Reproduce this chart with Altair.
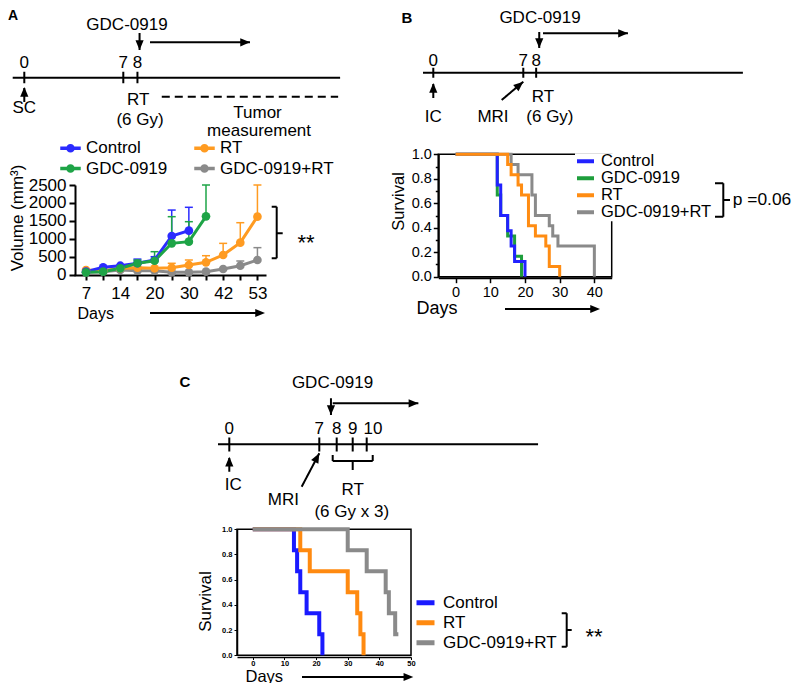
import json
import altair as alt
import pandas as pd

FONT = "Liberation Sans"
OFF = 8            # page margin of the html page
W, H = 784, 675    # whole canvas (autosize none)


def P(v):
    """page pixel -> chart pixel"""
    return v - OFF


# ============================ DATA ============================
# ---- Panel A: tumour volume (mm3), mean and upper error, per measurement
A_GROUPS = ["Control", "GDC-0919", "RT", "GDC-0919+RT"]
A_COLORS = ["#2b2bff", "#1ea447", "#ff9b21", "#8a8a8a"]
A_TICK_LABELS = ["7", "14", "20", "30", "42", "53"]   # every 2nd measurement

a_control = [80, 200, 246, 313, 405, 1075, 1224]
a_control_up = [None, None, None, 430, 497, 1800, 1877]
a_gdc = [60, 80, 173, 313, 385, 871, 917, 1625]
a_gdc_up = [None, None, None, 400, 637, 1615, 1475, 2500]
a_rt = [125, 106, 173, 190, 173, 190, 265, 340, 545, 890, 1615]
a_rt_up = [None, None, None, None, None, 313, 405, 525, 870, 1447, 2500]
a_combo = [60, 80, 125, 106, 106, 60, 60, 80, 154, 246, 405]
a_combo_up = [None, None, None, None, None, None, None, None, None, 377, 750]

# ---- Panel B: Kaplan-Meier (day, survival)
B_GROUPS = ["Control", "GDC-0919", "RT", "GDC-0919+RT"]
B_COLORS = ["#2222ff", "#1e9e3c", "#ff8c12", "#8a8a8a"]
b_control_t = [0, 12, 13, 15, 16, 17, 20]
b_control_s = [1, 0.75, 0.5, 0.375, 0.25, 0.125, 0]
b_gdc_t = [0, 12, 13, 15, 17, 19]
b_gdc_s = [1, 0.667, 0.5, 0.333, 0.167, 0]
b_rt_t = [0, 15, 16, 18, 19, 21, 23, 26, 27, 30]
b_rt_s = [1, 0.917, 0.833, 0.75, 0.667, 0.417, 0.333, 0.25, 0.083, 0]
b_combo_t = [0, 16, 18, 22, 23, 27, 28, 29.5, 40]
b_combo_s = [1, 0.917, 0.833, 0.667, 0.5, 0.417, 0.333, 0.25, 0]

# ---- Panel C: Kaplan-Meier (day, survival)
C_GROUPS = ["Control", "RT", "GDC-0919+RT"]
C_COLORS = ["#1a1aff", "#ff8a10", "#8a8a8a"]
c_control_t = [0, 13, 14, 15, 17, 21, 22]
c_control_s = [1, 0.833, 0.667, 0.5, 0.333, 0.167, 0]
c_rt_t = [0, 15, 18, 30, 33, 34, 35]
c_rt_s = [1, 0.833, 0.667, 0.5, 0.333, 0.167, 0]
c_combo_t = [0, 30, 36, 42, 43, 45, 46]
c_combo_s = [1, 0.833, 0.667, 0.5, 0.333, 0.167, 0.167]

# ---- timeline day marks
TL_A_DAYS = [0, 7, 8]
TL_B_DAYS = [0, 7, 8]
TL_C_DAYS = [0, 7, 8, 9, 10]

# ============================ TABLES ============================
def a_rows(name, vals, ups, draw):
    return [dict(group=name, idx=i, vol=v, up=u, draw=draw)
            for i, (v, u) in enumerate(zip(vals, ups))]

a_df = pd.DataFrame(
    a_rows("GDC-0919+RT", a_combo, a_combo_up, 0)
    + a_rows("RT", a_rt, a_rt_up, 1)
    + a_rows("Control", a_control, a_control_up, 2)
    + a_rows("GDC-0919", a_gdc, a_gdc_up, 3)
)
a_err = a_df.dropna(subset=["up"])


def km_rows(name, ts, ss, draw):
    return [dict(group=name, day=t, surv=s, draw=draw) for t, s in zip(ts, ss)]

b_df = pd.DataFrame(
    km_rows("GDC-0919", b_gdc_t, b_gdc_s, 0)
    + km_rows("Control", b_control_t, b_control_s, 1)
    + km_rows("GDC-0919+RT", b_combo_t, b_combo_s, 2)
    + km_rows("RT", b_rt_t, b_rt_s, 3)
)
c_df = pd.DataFrame(
    km_rows("Control", c_control_t, c_control_s, 0)
    + km_rows("RT", c_rt_t, c_rt_s, 1)
    + km_rows("GDC-0919+RT", c_combo_t, c_combo_s, 2)
)

# ============================ STYLE / LAYOUT ============================
YPAGE = alt.Scale(domain=[OFF, H + OFF], range=[0, H], nice=False, zero=False)
XPAGE = alt.Scale(domain=[OFF, W + OFF], range=[0, W], nice=False, zero=False)
ARROW = "M0,0L-1,-0.42L-1,0.42Z"
A_SYMBOL = ("M-1,-0.17L1,-0.17L1,0.17L-1,0.17Z "
            "M0.42,0A0.42,0.42 0 1 1 -0.42,0A0.42,0.42 0 1 1 0.42,0Z")


def annot(segs, heads, texts, xscale):
    sdf = pd.DataFrame(segs, columns=["x", "y", "x2", "y2", "dash"])
    hdf = pd.DataFrame(heads, columns=["x", "y", "angle"])
    tdf = pd.DataFrame(texts, columns=["x", "y", "text", "fs", "bold"])
    X = alt.X("x:Q", scale=xscale, axis=None)
    Y = alt.Y("y:Q", scale=YPAGE, axis=None)
    rules = alt.Chart(sdf).mark_rule(color="black", strokeWidth=2).encode(
        X, Y, x2="x2:Q", y2="y2:Q",
        strokeDash=alt.StrokeDash("dash:N", scale=alt.Scale(
            domain=["s", "d"], range=[[1, 0], [8, 5]]), legend=None))
    heads_l = alt.Chart(hdf).mark_point(
        shape=ARROW, filled=True, size=380, color="black", opacity=1,
        strokeWidth=0).encode(X, Y, angle=alt.Angle("angle:Q", scale=None))
    t_norm = alt.Chart(tdf).transform_filter("datum.bold == 0").mark_text(
        color="black", font=FONT).encode(
        X, Y, text="text:N", size=alt.Size("fs:Q", scale=None))
    t_bold = alt.Chart(tdf).transform_filter("datum.bold == 1").mark_text(
        color="black", font=FONT, fontWeight="bold").encode(
        X, Y, text="text:N", size=alt.Size("fs:Q", scale=None))
    return alt.layer(rules, heads_l, t_norm, t_bold)


FS = 17
# ---- timeline A (x in days)
tlA_scale = alt.Scale(domain=[0, 7], range=[P(24.3), P(123.3)], nice=False, zero=False)
tlA = annot(
    [(-0.82, 77.7, 22.33, 77.7, "s")]
    + [(d, 71.7, d, 83.3, "s") for d in TL_A_DAYS]
    + [(8.15, 33, 8.15, 50, "s"), (8.89, 42.3, 15.96, 42.3, "s"),
       (0, 102, 0, 88, "s"), (9.72, 96.7, 22.19, 96.7, "d")],
    [(8.15, 50, 90), (15.96, 42.3, 0), (0, 87, 270)],
    [(d, 63, str(d), FS, 0) for d in TL_A_DAYS]
    + [(7.26, 25, "GDC-0919", FS, 0), (0, 108.3, "SC", FS, 0),
       (8.06, 100, "RT", FS, 0), (8.18, 120, "(6 Gy)", FS, 0),
       (16.49, 113, "Tumor", FS, 0), (16.6, 131, "measurement", FS, 0)],
    tlA_scale)

# ---- timeline B
tlB_scale = alt.Scale(domain=[0, 7], range=[P(433.3), P(523.3)], nice=False, zero=False)
tlB = annot(
    [(-0.8, 72.7, 24.08, 72.7, "s")]
    + [(d, 67.7, d, 77.7, "s") for d in TL_B_DAYS]
    + [(8.24, 32, 8.24, 48, "s"), (8.53, 33.3, 15.14, 33.3, "s"),
       (0, 98, 0, 84, "s"), (5.32, 100, 7.0, 81.7, "s")],
    [(8.24, 48, 90), (15.14, 33.3, 0), (0, 83, 270), (7.0, 81.7, 319.7)],
    [(d, 61, str(d), FS, 0) for d in TL_B_DAYS]
    + [(8.3, 17.5, "GDC-0919", FS, 0), (0, 117, "IC", FS, 0),
       (4.64, 116.7, "MRI", FS, 0), (8.53, 96.7, "RT", FS, 0),
       (9.07, 116.7, "(6 Gy)", FS, 0)],
    tlB_scale)

# ---- timeline C (diagram not to scale after day 7: piecewise scale)
tlC_scale = alt.Scale(domain=[0, 7, 8, 9, 10],
                      range=[P(229.3), P(319.3), P(336.7), P(352.7), P(366.7)],
                      nice=False, zero=False)
tlC = annot(
    [(-0.88, 444.3, 22.24, 444.3, "s")]
    + [(d, 437.5, d, 451.5, "s") for d in TL_C_DAYS]
    + [(7.67, 398.3, 7.67, 415, "s"), (7.77, 403.3, 13.69, 403.3, "s"),
       (0, 471.7, 0, 458, "s"), (5.63, 486.7, 7.0, 453.3, "s"),
       (7.77, 455, 7.77, 461, "s"), (7.77, 461, 10.43, 461, "s"),
       (10.43, 455, 10.43, 461, "s"), (9.0, 461, 9.0, 470, "s")],
    [(7.67, 415, 90), (13.69, 403.3, 0), (0, 456.7, 270), (7.0, 453.3, 297.8)],
    [(d + (0.45 if d >= 10 else 0), 429.3, str(d), FS, 0) for d in TL_C_DAYS]
    + [(7.76, 383.3, "GDC-0919", FS, 0), (0.3, 485, "IC", FS, 0),
       (4.2, 500, "MRI", FS, 0), (9.0, 490, "RT", FS, 0),
       (8.94, 511.7, "(6 Gy x 3)", FS, 0)],
    tlC_scale)

# ---- misc page annotations: panel letters, brackets, significance, day arrows
misc = annot(
    [(271.7, 206.7, 276.7, 206.7, "s"), (276.7, 206.7, 276.7, 258.3, "s"),
     (271.7, 258.3, 276.7, 258.3, "s"), (276.7, 233.3, 282.7, 233.3, "s"),
     (715, 183.3, 723.3, 183.3, "s"), (723.3, 183.3, 723.3, 216.7, "s"),
     (715, 216.7, 723.3, 216.7, "s"), (723.3, 200, 730, 200, "s"),
     (561.7, 613.3, 566.7, 613.3, "s"), (566.7, 613.3, 566.7, 646.7, "s"),
     (561.7, 646.7, 566.7, 646.7, "s"), (566.7, 630, 571.7, 630, "s"),
     (150, 313, 262, 313, "s"), (505, 309, 597, 309, "s"),
     (302, 677, 410, 677, "s")],
    [(265, 313, 0), (600, 309, 0), (413.3, 677, 0)],
    [(13, 16, "A", 14, 1), (407, 17.5, "B", 15, 1), (185, 382, "C", 15, 1),
     (306, 243, "**", 22, 0), (594, 637, "**", 22, 0),
     (762, 200, "p =0.06", 17.4, 0)],
    XPAGE)

# ============================ PANEL A PLOT ============================
a_label_expr = ("datum.value % 2 == 0 ? " + json.dumps(A_TICK_LABELS)
                + "[datum.value / 2] : ''")
xa_scale = alt.Scale(domain=[-0.7, 10.5], range=[P(74), P(266)], nice=False, zero=False)
xa_axis = alt.Axis(orient="bottom", offset=P(275) - H, values=list(range(11)),
                   labelExpr=a_label_expr, labelFontSize=17, labelPadding=5,
                   tickSize=5, tickWidth=2, domainWidth=2, grid=False,
                   labelFlush=False, labelOverlap=False,
                   title="Days", titleX=P(77), titleY=38, titleAngle=0,
                   titleAlign="left", titleBaseline="middle", titleFontSize=16)
ya_scale = alt.Scale(domain=[0, 2500], range=[P(274.5), P(185)], nice=False, zero=False)
ya_axis = alt.Axis(orient="left", offset=-P(75), values=[0, 500, 1000, 1500, 2000, 2500],
                   format="d", labelFontSize=17, labelPadding=3, tickSize=6, tickWidth=2,
                   domainWidth=2, grid=False, labelFlush=False, labelOverlap=False,
                   title="Volume (mm³)", titleX=17 - 75, titleY=P(217.5),
                   titleAngle=270, titleAlign="center", titleBaseline="middle",
                   titleFontSize=17)
XA = alt.X("idx:Q", scale=xa_scale, axis=xa_axis)
YA = alt.Y("vol:Q", scale=ya_scale, axis=ya_axis)
YA_up = alt.Y("up:Q", scale=ya_scale, axis=ya_axis)
a_legend = alt.Legend(orient="none", legendX=P(60), legendY=P(137.5),
                      columns=2, columnPadding=26, rowPadding=1.5,
                      symbolType=A_SYMBOL, symbolSize=420, symbolStrokeWidth=0,
                      symbolOpacity=1, labelFontSize=17, labelOffset=5,
                      title=None, padding=0)
CA = alt.Color("group:N", scale=alt.Scale(domain=A_GROUPS, range=A_COLORS), legend=a_legend)

a_bars = alt.Chart(a_err).mark_rule(strokeWidth=1.5, opacity=1).encode(
    XA, YA, y2="up:Q", color=CA)
a_caps = alt.Chart(a_err).mark_tick(orient="horizontal", size=8, thickness=1.5,
                                    opacity=1).encode(XA, YA_up, color=CA)
a_lines = alt.Chart(a_df).mark_line(strokeWidth=3, opacity=1).encode(
    XA, YA, color=CA, detail="group:N", order="idx:Q")
a_pts = alt.Chart(a_df).mark_circle(size=75, opacity=1).encode(
    XA, YA, color=CA, order="draw:Q")
plotA = alt.layer(a_bars, a_caps, a_lines, a_pts)

# ============================ PANEL B PLOT ============================
xb_scale = alt.Scale(domain=[-5, 45], range=[P(438.3), P(611.7)], nice=False, zero=False)
xb_axis = alt.Axis(orient="bottom", offset=P(277.7) - H, values=[0, 10, 20, 30, 40],
                   labelFontSize=14.5, labelPadding=3, tickSize=5, tickWidth=1.5,
                   domainWidth=2, grid=False, labelFlush=False, labelOverlap=False,
                   title="Days", titleX=P(416), titleY=31, titleAngle=0,
                   titleAlign="left", titleBaseline="middle", titleFontSize=18)
yb_scale = alt.Scale(domain=[0, 1], range=[P(276.7), P(154.3)], nice=False, zero=False)
yb_axis = alt.Axis(orient="left", offset=-P(438.3),
                   values=[round(i * 0.1, 1) for i in range(11)],
                   labelExpr="round(datum.value * 10) % 2 == 0 ? format(datum.value, '.1f') : ''",
                   tickSize={"condition": {"test": "round(datum.value * 10) % 2 == 0", "value": 5},
                             "value": 3},
                   labelFontSize=14.5, labelPadding=2, tickWidth=1.5, domainWidth=2,
                   grid=False, labelFlush=False, labelOverlap=False,
                   title="Survival", titleX=398.7 - 438.3, titleY=P(201),
                   titleAngle=270, titleAlign="center", titleBaseline="middle",
                   titleFontSize=16.5)
XB = alt.X("day:Q", scale=xb_scale, axis=xb_axis)
YB = alt.Y("surv:Q", scale=yb_scale, axis=yb_axis)
b_frame = alt.Chart(pd.DataFrame([dict(day=-5, day2=45, surv=0, surv2=1)])).mark_rect(
    fillOpacity=0, stroke="black", strokeWidth=1.5).encode(XB, YB, x2="day2:Q", y2="surv2:Q")
b_lines = alt.Chart(b_df).mark_line(interpolate="step-after", strokeWidth=3).encode(
    XB, YB,
    color=alt.Color("group:N", scale=alt.Scale(domain=B_GROUPS, range=B_COLORS),
                    legend=alt.Legend(orient="none", legendX=P(575), legendY=P(153.3),
                                      rowPadding=0, clipHeight=16, symbolType="stroke",
                                      symbolSize=289, symbolStrokeWidth=4,
                                      labelFontSize=16.5, labelOffset=5,
                                      title=None, padding=0, fillColor="white")),
    order="day:Q")
plotB = alt.layer(b_frame, b_lines)

# ============================ PANEL C PLOT ============================
xc_scale = alt.Scale(domain=[-5, 50], range=[P(237), P(411)], nice=False, zero=False)
xc_axis = alt.Axis(orient="bottom", offset=P(657) - H, values=[0, 10, 20, 30, 40, 50],
                   labelFontSize=7.5, labelFontWeight="bold", labelPadding=0,
                   tickSize=2.5, tickWidth=1, domainWidth=1.5, grid=False,
                   labelFlush=False, labelOverlap=False,
                   title="Days", titleX=P(245), titleY=681 - 657, titleAngle=0,
                   titleAlign="left", titleBaseline="alphabetic", titleFontSize=16.5)
yc_scale = alt.Scale(domain=[0, 1], range=[P(655.3), P(529.3)], nice=False, zero=False)
yc_axis = alt.Axis(orient="left", offset=-P(237), values=[0, 0.2, 0.4, 0.6, 0.8, 1.0],
                   format=".1f", labelFontSize=7.5, labelFontWeight="bold",
                   labelPadding=2, tickSize=3, tickWidth=1, domainWidth=1.5,
                   grid=False, labelFlush=False, labelOverlap=False,
                   title="Survival", titleX=205 - 237, titleY=P(601),
                   titleAngle=270, titleAlign="center", titleBaseline="middle",
                   titleFontSize=17)
XC = alt.X("day:Q", scale=xc_scale, axis=xc_axis)
YC = alt.Y("surv:Q", scale=yc_scale, axis=yc_axis)
c_frame = alt.Chart(pd.DataFrame([dict(day=-5, day2=50, surv=0, surv2=1)])).mark_rect(
    fillOpacity=0, stroke="black", strokeWidth=1.5).encode(XC, YC, x2="day2:Q", y2="surv2:Q")
c_lines = alt.Chart(c_df).mark_line(interpolate="step-after", strokeWidth=4).encode(
    XC, YC,
    color=alt.Color("group:N", scale=alt.Scale(domain=C_GROUPS, range=C_COLORS),
                    legend=alt.Legend(orient="none", legendX=P(414), legendY=P(593),
                                      rowPadding=0, clipHeight=19.5, symbolType="stroke",
                                      symbolSize=324, symbolStrokeWidth=5,
                                      labelFontSize=17, labelOffset=6,
                                      title=None, padding=0)),
    order="day:Q")
plotC = alt.layer(c_frame, c_lines)

# ============================ COMPOSE ============================
chart = alt.layer(tlA, tlB, tlC, misc, plotA, plotB, plotC).resolve_scale(
    x="independent", y="independent", color="independent", strokeDash="independent"
).properties(
    width=W, height=H, autosize=alt.AutoSizeParams(type="none"), padding=0
).configure(font=FONT).configure_view(stroke=None).configure_axis(
    labelFont=FONT, titleFont=FONT, labelColor="black", titleColor="black",
    domainColor="black", tickColor="black", titleFontWeight="normal"
).configure_legend(labelFont=FONT, labelColor="black")

chart.save("out.html", embed_options={"renderer": "svg", "actions": False})
